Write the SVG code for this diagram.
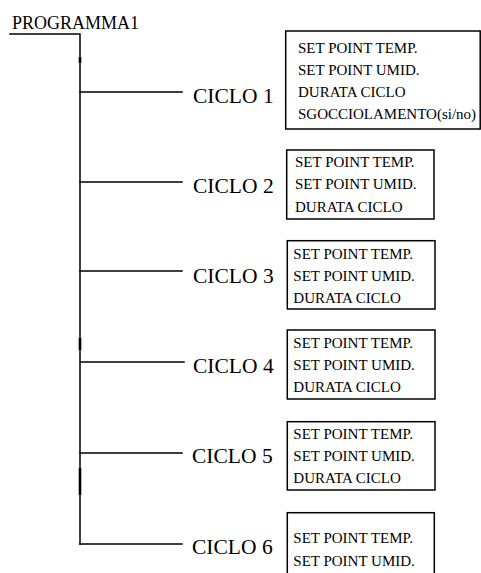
<svg xmlns="http://www.w3.org/2000/svg" width="481" height="573" viewBox="0 0 481 573">
<style>
.ln{stroke:#000;stroke-width:1.5;fill:none;stroke-linecap:square}
.thk{stroke:#000;stroke-width:2.6;fill:none}
.box{fill:#fff;stroke:#000;stroke-width:1.5}
.t{font-family:"Liberation Serif","DejaVu Serif",serif;fill:#000}
.root{font-size:18px}
.lab{font-size:21.5px}
.it{font-size:15px}
</style>
<rect width="481" height="573" fill="#fff"/>
<g id="connectors">
<path class="ln" d="M10 34H80V544"/>
<path class="ln" d="M80 92H182M80 182H182M80 271H182M81 362H184M80 453H182M80 544H182"/>
<path class="thk" d="M80 57V63M80 338V350M80 468V495"/>
</g>
<g id="programma1"><text class="t root" x="12" y="29">PROGRAMMA1</text></g>
<g id="ciclo1">
<text class="t lab" x="193" y="103">CICLO 1</text>
<rect class="box" x="285.7" y="31" width="194.5" height="98"/>
<text class="t it" x="298" y="53">SET POINT TEMP.</text>
<text class="t it" x="298" y="75">SET POINT UMID.</text>
<text class="t it" x="298" y="97">DURATA CICLO</text>
<text class="t it" x="298" y="119">SGOCCIOLAMENTO(si/no)</text>
</g>
<g id="ciclo2">
<text class="t lab" x="193" y="193">CICLO 2</text>
<rect class="box" x="286.7" y="150" width="147.3" height="69"/>
<text class="t it" x="295" y="167">SET POINT TEMP.</text>
<text class="t it" x="295" y="189">SET POINT UMID.</text>
<text class="t it" x="295" y="211.5">DURATA CICLO</text>
</g>
<g id="ciclo3">
<text class="t lab" x="193" y="283">CICLO 3</text>
<rect class="box" x="287.3" y="240.7" width="147.7" height="68.3"/>
<text class="t it" x="293.3" y="259.3">SET POINT TEMP.</text>
<text class="t it" x="293.3" y="281">SET POINT UMID.</text>
<text class="t it" x="293.3" y="303.3">DURATA CICLO</text>
</g>
<g id="ciclo4">
<text class="t lab" x="193" y="372.5">CICLO 4</text>
<rect class="box" x="287.3" y="330" width="147.7" height="69"/>
<text class="t it" x="293.3" y="348.3">SET POINT TEMP.</text>
<text class="t it" x="293.3" y="370">SET POINT UMID.</text>
<text class="t it" x="293.3" y="392.3">DURATA CICLO</text>
</g>
<g id="ciclo5">
<text class="t lab" x="192" y="463">CICLO 5</text>
<rect class="box" x="287.3" y="421.7" width="147.7" height="68.3"/>
<text class="t it" x="293.3" y="439.3">SET POINT TEMP.</text>
<text class="t it" x="293.3" y="461">SET POINT UMID.</text>
<text class="t it" x="293.3" y="483.3">DURATA CICLO</text>
</g>
<g id="ciclo6">
<text class="t lab" x="192" y="554">CICLO 6</text>
<rect class="box" x="287.3" y="512.7" width="147" height="70"/>
<text class="t it" x="293.3" y="543.3">SET POINT TEMP.</text>
<text class="t it" x="293.3" y="565.7">SET POINT UMID.</text>
</g>
</svg>
